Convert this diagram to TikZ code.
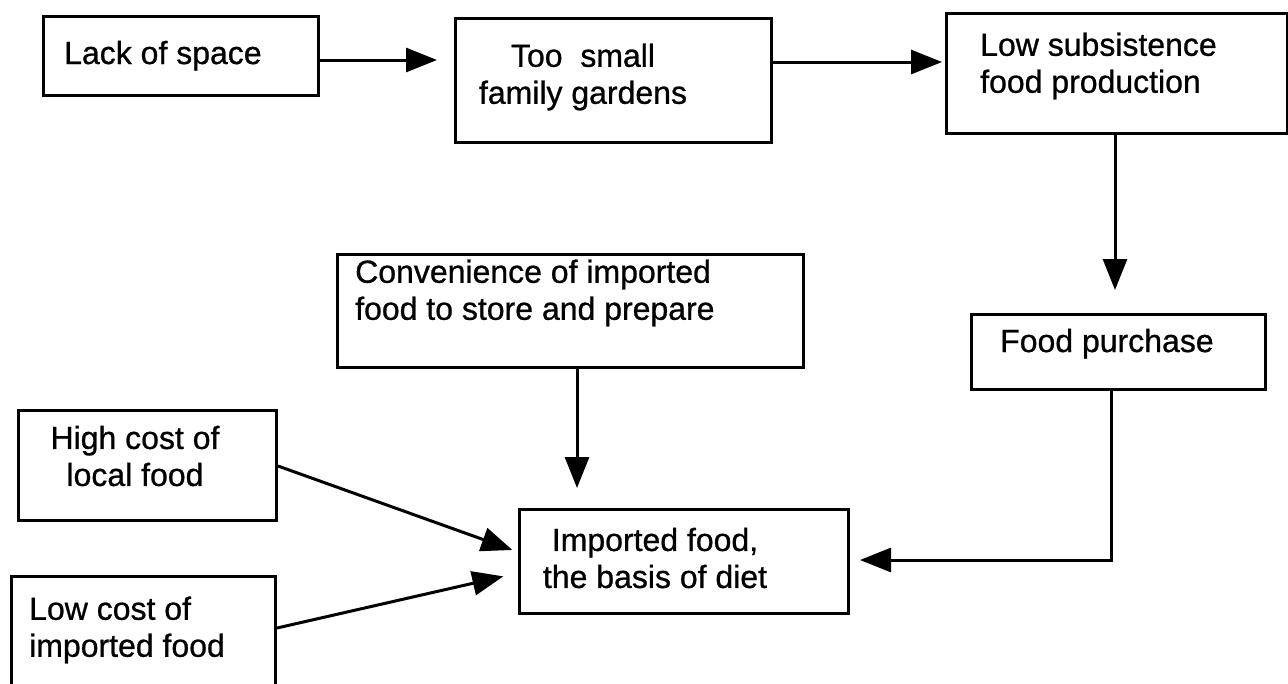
\documentclass[tikz,border=0pt]{standalone}
\usepackage{fontspec}
\setmainfont{Liberation Sans}
\newfontfamily\lblfont{Liberation Sans}[FakeBold=0.8]
\usetikzlibrary{arrows.meta,calc}
\tikzset{
  box/.style={draw=black, line width=3pt, rectangle, inner sep=0pt, anchor=north west},
  lbl/.style={inner sep=0pt, font=\lblfont\fontsize{32pt}{37pt}\selectfont, text=black},
  conn/.style={line width=3pt, -{Triangle[length=31pt,width=24pt]}},
}
\begin{document}
\begin{tikzpicture}[x=1pt,y=-1pt]
\useasboundingbox (0,0) rectangle (1288,683);
\clip (0,0) rectangle (1288,683);
\fill[white] (0,0) rectangle (1288,683);
% boxes
\node[box, minimum width=275pt, minimum height=79pt]  (b1) at (42,15) {};
\node[box, minimum width=316pt, minimum height=124pt] (b2) at (454,17) {};
\node[box, minimum width=341pt, minimum height=120pt] (b3) at (945,12) {};
\node[box, minimum width=294pt, minimum height=75pt]  (b4) at (970,313) {};
\node[box, minimum width=466pt, minimum height=113pt] (b5) at (336,253) {};
\node[box, minimum width=258pt, minimum height=110pt] (b6) at (17,409) {};
\node[box, minimum width=329pt, minimum height=104pt] (b7) at (518,508) {};
\node[box, minimum width=264pt, minimum height=130pt] (b8) at (10,575) {};
% texts
\node[lbl, anchor=base west] (t1) at (64,64) {Lack of space};
\node[lbl, align=center] (t2) at (583,77) {Too\ \ small\\family gardens};
\node[lbl, anchor=west, align=left] (t3) at (980,66) {Low subsistence\\food production};
\node[lbl, anchor=base west] (t4) at (1000,352) {Food purchase};
\node[lbl, anchor=west, align=left] (t5) at (355,293) {Convenience of imported\\food to store and prepare};
\node[lbl, align=center] (t6) at (135,456) {High cost of\\local food};
\node[lbl, align=center] (t7) at (655,558) {Imported food,\\the basis of diet};
\node[lbl, anchor=west, align=left] (t8) at (29,630) {Low cost of\\imported food};
% connectors
\draw[conn, shorten >=17pt] (b1.east |- 0,60) -- (b2.west |- 0,60);
\draw[conn, shorten >=3pt] (b2.east |- 0,62) -- (b3.west |- 0,62);
\draw[conn, shorten >=23pt] (b3.south -| 1115,0) -- (b4.north -| 1115,0);
\draw[conn, shorten >=10pt] (b4.south -| 1111,0) |- (b7.east |- 0,560);
\draw[conn, shorten >=20pt] (b5.south -| 577,0) -- (b7.north -| 577,0);
\draw[conn, shorten >=6pt] (b6.east |- 0,466) -- (b7.west |- 0,552);
\draw[conn, shorten >=15pt] (b8.east |- 0,628) -- (b7.west |- 0,573);
\end{tikzpicture}
\end{document}
